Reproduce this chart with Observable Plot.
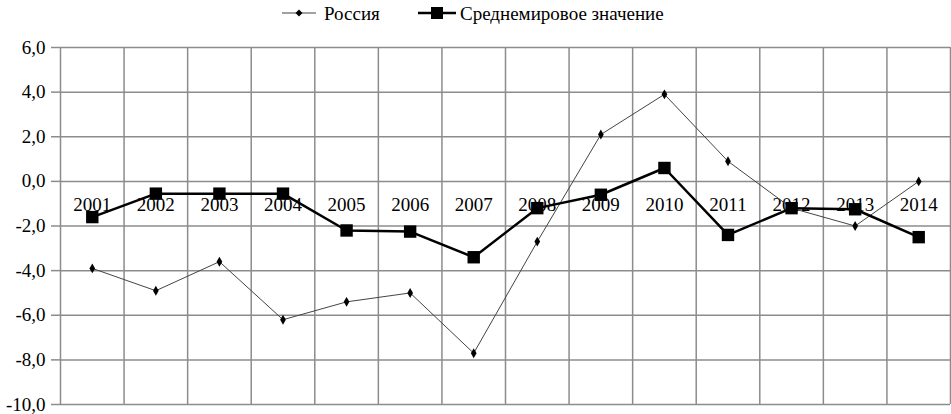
<!DOCTYPE html>
<html>
<head>
<meta charset="utf-8">
<script src="https://cdn.jsdelivr.net/npm/d3@7"></script>
<script src="https://cdn.jsdelivr.net/npm/@observablehq/plot@0.6"></script>
<style>
  html, body { margin: 0; padding: 0; background: #fff; }
  body { width: 951px; height: 414px; overflow: hidden; font-family: 'Liberation Serif', serif; }
  #legend { height: 30px; position: relative; font-size: 19px; color: #000; font-family: 'Liberation Serif', serif; }
  .item { position: absolute; top: 0; height: 26px; display: flex; align-items: center; }
  .item svg { display: block; }
  .item span { margin-left: 8px; line-height: 1; }
  #chart svg, #chart svg text, #chart svg g { font-family: 'Liberation Serif', serif !important; }
</style>
</head>
<body>
<div id="legend">
  <div class="item" style="left:282px">
    <svg width="34" height="14"><line x1="0" y1="7" x2="34" y2="7" stroke="#444" stroke-width="1.2"/><path d="M17,3.5L20.5,7L17,10.5L13.5,7Z" fill="#000"/></svg>
    <span style="font-family:'Liberation Serif'">Россия</span>
  </div>
  <div class="item" style="left:418px">
    <svg width="38" height="14"><line x1="0" y1="7" x2="38" y2="7" stroke="#000" stroke-width="2.5"/><rect x="13" y="1" width="12" height="12" fill="#000"/></svg>
    <span style="margin-left:4px;font-family:'Liberation Serif'">Среднемировое значение</span>
  </div>
</div>
<div id="chart"></div>
<script>
const years = [2001, 2002, 2003, 2004, 2005, 2006, 2007, 2008, 2009, 2010, 2011, 2012, 2013, 2014];
const russia = [-3.9, -4.9, -3.6, -6.2, -5.4, -5.0, -7.7, -2.7, 2.1, 3.9, 0.9, -1.2, -2.0, 0.0];
const world = [-1.6, -0.55, -0.55, -0.55, -2.2, -2.25, -3.4, -1.2, -0.6, 0.6, -2.4, -1.2, -1.25, -2.5];
const yTicks = [-10, -8, -6, -4, -2, 0, 2, 4, 6];
const seriesNames = ["Россия", "Среднемировое значение"];

const rus = years.map((y, i) => ({year: y, value: russia[i], series: seriesNames[0]}));
const wld = years.map((y, i) => ({year: y, value: world[i], series: seriesNames[1]}));
const bounds = [years[0] - 0.5, ...years.map(y => y + 0.5)];
const fmt = d => d.toFixed(1).replace(".", ",");
const gridColor = "#8c8c8c";
const font = "'Liberation Serif', serif";

const chart = Plot.plot({
  width: 951,
  height: 384,
  marginLeft: 60,
  marginRight: 1,
  marginTop: 17,
  marginBottom: 10,
  style: {fontFamily: font, background: "#fff", color: "#000"},
  x: {domain: [bounds[0], bounds[bounds.length - 1]], axis: null},
  y: {domain: [-10, 6]},
  marks: [
    Plot.ruleY(yTicks, {x1: bounds[0], x2: bounds[bounds.length - 1], stroke: gridColor, strokeWidth: 1.5}),
    Plot.ruleX(bounds, {y1: -10, y2: 6, stroke: gridColor, strokeWidth: 1.5}),
    Plot.axisY(yTicks, {tickSize: 9, tickPadding: 6, tickFormat: fmt, stroke: gridColor, strokeWidth: 1.5, fill: "#000", fontSize: 19, fontFamily: font, label: null}),
    Plot.text(years, {x: d => d, y: 0, dy: 24, text: d => String(d), fontSize: 19, fill: "#000", fontFamily: font}),
    Plot.line(rus, {x: "year", y: "value", stroke: "#444", strokeWidth: 1}),
    Plot.dot(rus, {x: "year", y: "value", symbol: "diamond", r: 3, fill: "#000", stroke: "none"}),
    Plot.line(wld, {x: "year", y: "value", stroke: "#000", strokeWidth: 2.5}),
    Plot.dot(wld, {x: "year", y: "value", symbol: "square", r: 7, fill: "#000", stroke: "none"})
  ]
});
document.getElementById("chart").appendChild(chart);
</script>
</body>
</html>
